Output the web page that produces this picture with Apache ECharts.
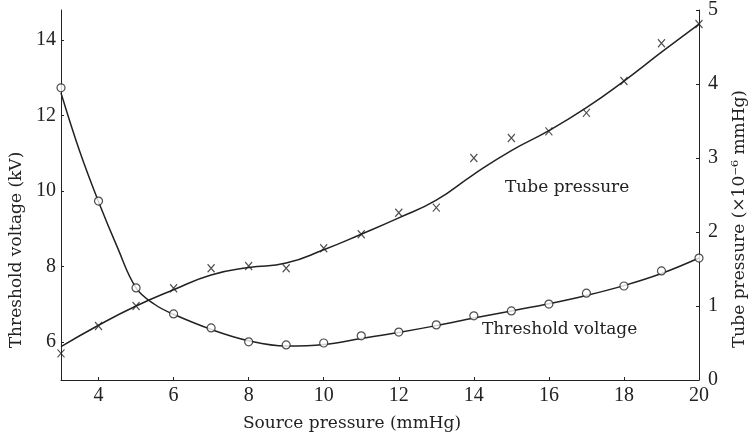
<!DOCTYPE html>
<html>
<head>
<meta charset="utf-8">
<script src="https://cdn.jsdelivr.net/npm/echarts@6/dist/echarts.min.js"></script>
<style>
html,body{margin:0;padding:0;background:#fff;}
#chart{width:751px;height:439px;}
</style>
</head>
<body>
<div id="chart"></div>
<script>
// Source pressure (mmHg)
const sourcePressure = [3,4,5,6,7,8,9,10,11,12,13,14,15,16,17,18,19,20];
// Threshold voltage (kV) measured points (circles)
const thresholdVoltage = [12.74,9.74,7.44,6.75,6.38,6.01,5.93,5.98,6.17,6.27,6.46,6.70,6.83,7.01,7.30,7.49,7.89,8.23];
// Threshold voltage fitted curve at these source pressures
const thresholdCurveX = [3,3.5,4,4.5,5,5.5,6,7,8,9,10,11,12,13,14,15,16,17,18,19,20];
const thresholdCurve  = [12.6,11.05,9.72,8.52,7.44,7.0,6.74,6.34,6.04,5.90,5.94,6.10,6.26,6.44,6.64,6.83,7.02,7.24,7.50,7.82,8.23];
// Tube pressure (x10^-6 mmHg) measured points (crosses)
const tubePressure = [0.36,0.73,1.00,1.24,1.51,1.54,1.51,1.78,1.97,2.26,2.33,3.00,3.27,3.36,3.61,4.04,4.55,4.81];
// Tube pressure fitted curve
const tubeCurve = [0.45,0.74,1.00,1.22,1.42,1.52,1.58,1.76,1.97,2.19,2.43,2.78,3.10,3.37,3.68,4.04,4.43,4.81];
// tick labels
const xTicks = [4,6,8,10,12,14,16,18,20];
const leftTicks = [6,8,10,12,14];
const rightTicks = [0,1,2,3,4,5];

const pair = (xs, ys) => xs.map((x, i) => [x, ys[i]]);
const ink = '#222';
const TICK_FAMILY = 'Liberation Serif';
const TICK_SIZE = 20;
const textFont = {fontFamily: 'DejaVu Serif', fontSize: 17, fill: ink};

const chart = echarts.init(document.getElementById('chart'), null, {renderer: 'canvas'});
chart.setOption({
  animation: false,
  backgroundColor: '#fff',
  grid: {left: 61, right: 52, top: 10, bottom: 59},
  xAxis: {
    type: 'value', min: 3, max: 20,
    axisLine: {show: true, lineStyle: {color: ink, width: 1}},
    axisTick: {show: true, inside: true, length: 3, customValues: xTicks, lineStyle: {color: ink}},
    axisLabel: {customValues: xTicks, margin: 6, fontFamily: TICK_FAMILY, fontSize: TICK_SIZE, color: ink},
    splitLine: {show: false}
  },
  yAxis: [
    {
      type: 'value', min: 5, max: 14.8, position: 'left',
      axisLine: {show: true, onZero: false, lineStyle: {color: ink, width: 1}},
      axisTick: {show: true, inside: true, length: 3, customValues: leftTicks, lineStyle: {color: ink}},
      axisLabel: {customValues: leftTicks, margin: 5, fontFamily: TICK_FAMILY, fontSize: TICK_SIZE, color: ink},
      splitLine: {show: false}
    },
    {
      type: 'value', min: 0, max: 5, position: 'right',
      axisLine: {show: true, onZero: false, lineStyle: {color: ink, width: 1}},
      axisTick: {show: true, inside: true, length: 3, customValues: rightTicks, lineStyle: {color: ink}},
      axisLabel: {customValues: rightTicks, margin: 9, fontFamily: TICK_FAMILY, fontSize: TICK_SIZE, color: ink},
      splitLine: {show: false}
    }
  ],
  series: [
    {
      name: 'Threshold voltage curve', type: 'line', yAxisIndex: 0,
      data: pair(thresholdCurveX, thresholdCurve), smooth: 0.4, showSymbol: false,
      lineStyle: {color: ink, width: 1.5}, z: 2
    },
    {
      name: 'Threshold voltage', type: 'scatter', yAxisIndex: 0,
      data: pair(sourcePressure, thresholdVoltage), symbol: 'circle', symbolSize: 8,
      itemStyle: {color: '#fff', borderColor: ink, borderWidth: 1.2}, z: 3
    },
    {
      name: 'Tube pressure curve', type: 'line', yAxisIndex: 1,
      data: pair(sourcePressure, tubeCurve), smooth: 0.5, showSymbol: false,
      lineStyle: {color: ink, width: 1.5}, z: 2
    },
    {
      name: 'Tube pressure', type: 'scatter', yAxisIndex: 1,
      data: pair(sourcePressure, tubePressure), symbol: 'path://M0,0L10,12M10,0L0,12', symbolSize: [7, 8],
      itemStyle: {color: 'none', borderColor: ink, borderWidth: 1.2}, z: 3
    }
  ],
  graphic: [
    {type: 'text', x: 352, y: 424, style: Object.assign({text: 'Source pressure (mmHg)', align: 'center', verticalAlign: 'middle'}, textFont)},
    {type: 'text', x: 17, y: 250, rotation: Math.PI / 2, style: Object.assign({text: 'Threshold voltage (kV)', align: 'center', verticalAlign: 'middle'}, textFont)},
    {type: 'text', x: 740, y: 219, rotation: Math.PI / 2, style: Object.assign({text: 'Tube pressure (×10⁻⁶ mmHg)', align: 'center', verticalAlign: 'middle'}, textFont)},
    {type: 'text', x: 505, y: 188, style: Object.assign({text: 'Tube pressure', align: 'left', verticalAlign: 'middle'}, textFont)},
    {type: 'text', x: 482, y: 330, style: Object.assign({text: 'Threshold voltage', align: 'left', verticalAlign: 'middle'}, textFont)}
  ]
});
</script>
</body>
</html>
